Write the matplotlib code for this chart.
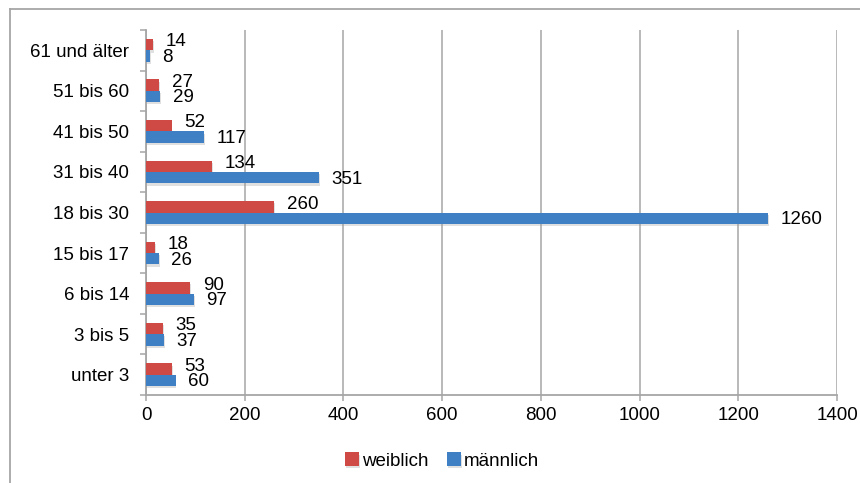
import matplotlib.pyplot as plt
import matplotlib.patheffects as pe
from matplotlib.lines import Line2D
import numpy as np

plt.rcParams['font.family'] = ['Liberation Sans', 'DejaVu Sans']

# age groups, top to bottom
groups = ["61 und älter", "51 bis 60", "41 bis 50", "31 bis 40", "18 bis 30",
          "15 bis 17", "6 bis 14", "3 bis 5", "unter 3"]
weiblich = [14, 27, 52, 134, 260, 18, 90, 35, 53]
maennlich = [8, 29, 117, 351, 1260, 26, 97, 37, 60]
xticks = [0, 200, 400, 600, 800, 1000, 1200, 1400]

red = '#cf4a45'
blue = '#3f7fc4'
grey = '#a6a6a6'
fs = 13.5

fig = plt.figure(figsize=(8.6, 4.83), dpi=100)
ax = fig.add_axes([146 / 860, 88 / 483, 691 / 860, 365 / 483])

y = np.arange(len(groups))
h = 0.28
shadow = [pe.SimplePatchShadow(offset=(0.6, -1.6), shadow_rgbFace='#999999', alpha=0.3),
          pe.Normal()]
b1 = ax.barh(y - h / 2, weiblich, h, color=red, label='weiblich', zorder=3)
b2 = ax.barh(y + h / 2, maennlich, h, color=blue, label='männlich', zorder=3)
for b in list(b1) + list(b2):
    b.set_path_effects(shadow)

for yi, v in zip(y, weiblich):
    ax.annotate(str(v), (v, yi - h / 2), xytext=(9, 2), textcoords='offset points',
                va='center', ha='left', fontsize=fs)
for yi, v in zip(y, maennlich):
    ax.annotate(str(v), (v, yi + h / 2), xytext=(9, -1), textcoords='offset points',
                va='center', ha='left', fontsize=fs)

ax.set_xlim(0, 1400)
ax.set_ylim(len(groups) - 0.5, -0.5)
ax.set_xticks(xticks)
ax.set_xticklabels([str(t) for t in xticks], fontsize=fs)
ax.set_yticks(y)
ax.set_yticklabels(groups, fontsize=fs)
ax.set_yticks(np.arange(len(groups) + 1) - 0.5, minor=True)

ax.tick_params(axis='y', which='major', length=0, pad=12)
ax.tick_params(axis='y', which='minor', length=4.5, color=grey, width=1.1)
ax.tick_params(axis='x', length=4, color=grey, width=1.1, pad=5)

ax.grid(axis='x', color=grey, linewidth=1.1, zorder=0)
for side in ['top', 'right']:
    ax.spines[side].set_visible(False)
for side in ['left', 'bottom']:
    ax.spines[side].set_color(grey)
    ax.spines[side].set_linewidth(1.3)

leg = fig.legend(handles=[b1, b2], loc='center', bbox_to_anchor=(442 / 860, 1 - 461 / 483),
                 ncol=2, frameon=False, fontsize=fs, handlelength=0.75, handleheight=0.75,
                 handletextpad=0.15, columnspacing=1.0)

# outer frame (top and left edges)
fig.add_artist(Line2D([10 / 860, 1], [1 - 9 / 483, 1 - 9 / 483], color=grey, lw=1.3))
fig.add_artist(Line2D([10 / 860, 10 / 860], [0, 1 - 9 / 483], color=grey, lw=1.3))

fig.savefig('out.png', dpi=100)
